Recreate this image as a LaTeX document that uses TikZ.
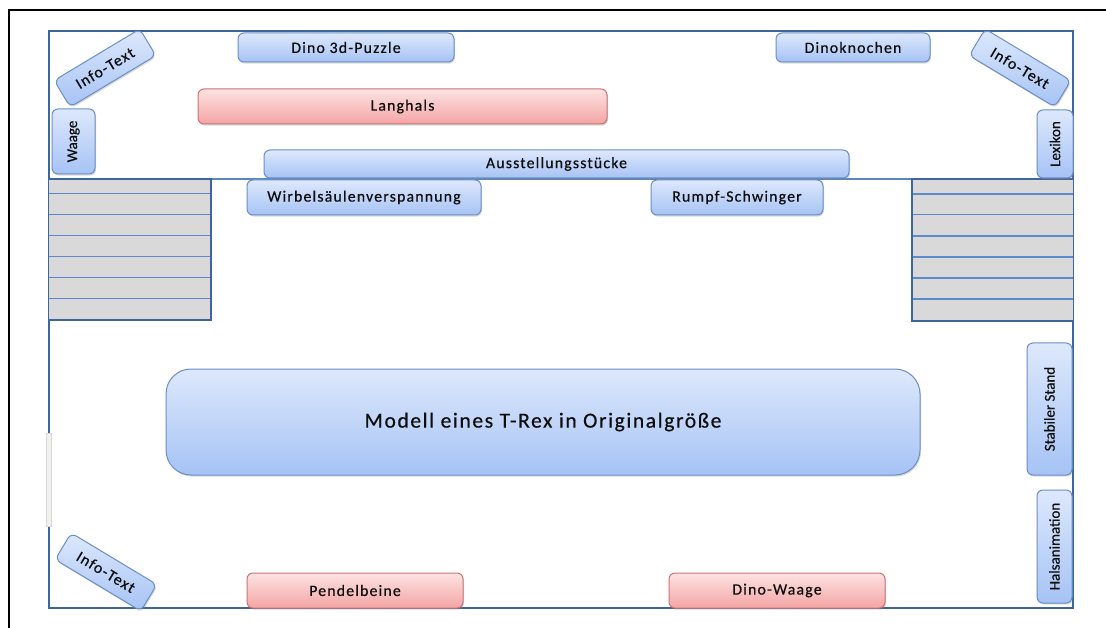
\documentclass[tikz,border=0pt]{standalone}
\usepackage{fontspec}
\setmainfont[FakeBold=0.5]{Carlito}
\newfontfamily\spaced[LetterSpace=7.5,FakeBold=0.5]{Carlito}
\usetikzlibrary{shadows}

\definecolor{wall}{HTML}{40659A}
\definecolor{divider}{HTML}{5A86C4}
\definecolor{stepline}{HTML}{5B8BCC}
\definecolor{stairfill}{HTML}{D9D9D9}
\definecolor{bluetop}{HTML}{DDE8FC}
\definecolor{bluebot}{HTML}{A6C3F5}
\definecolor{blueedge}{HTML}{6A8FC8}
\definecolor{redtop}{HTML}{FDE3E3}
\definecolor{redbot}{HTML}{F4A4A4}
\definecolor{rededge}{HTML}{CC7474}
\definecolor{ink}{HTML}{0E0E0E}
\definecolor{doorfill}{HTML}{F0F0F0}
\definecolor{dooredge}{HTML}{D8D8D8}

\tikzset{
  exhibit/.style={rounded corners=6pt, draw=blueedge, line width=1pt,
    top color=bluetop, bottom color=bluebot,
    drop shadow={opacity=0.3, shadow xshift=1pt, shadow yshift=-1.6pt},
    inner sep=0pt, text=ink, font=\spaced\fontsize{15.8}{18}\selectfont},
  redexhibit/.style={exhibit, draw=rededge, top color=redtop, bottom color=redbot},
  sidelabel/.style={exhibit, font=\fontsize{15}{18}\selectfont},
  infopanel/.style={exhibit, minimum width=100pt, minimum height=31pt},
  stairs/.style={fill=stairfill},
  stairedge/.style={draw=wall, line width=2.2pt},
  tread/.style={draw=stepline, line width=1.2pt}
}

\begin{document}
\begin{tikzpicture}[x=1pt,y=-1pt]
\useasboundingbox (0,0) rectangle (1106,628);
\fill[white] (0,0) rectangle (1106,628);

% page frame
\draw[black, line width=2.4pt] (9,628) -- (9,10) -- (1106,10);

% room outline and divider
\draw[wall, line width=2.2pt] (49,31) rectangle (1073,608);
\draw[divider, line width=1.8pt] (49,179) -- (1073,179);

% door on the left wall
\draw[dooredge, fill=doorfill, line width=0.6pt] (46.5,433) rectangle (51.5,526);

% left stairs
\fill[stairs] (49,179) rectangle (211,320);
\foreach \yy in {193.5,214.5,235.5,256.5,277.5,298.5}
  \draw[tread] (49,\yy) -- (211,\yy);
\draw[stairedge] (49,179) -- (211,179) -- (211,320) -- (49,320);

% right stairs
\fill[stairs] (912,179) rectangle (1073,321);
\foreach \yy in {194,214.5,236,257,278,299}
  \draw[tread] (912,\yy) -- (1073,\yy);
\draw[stairedge] (1073,179) -- (912,179) -- (912,321) -- (1073,321);

% exhibits along the top
\node[exhibit, minimum width=216pt, minimum height=29pt] (puzzle) at (346,47.5) {Dino 3d-Puzzle};
\node[exhibit, minimum width=154pt, minimum height=29pt] (knochen) at (853,47.5) {Dinoknochen};
\node[redexhibit, minimum width=409pt, minimum height=35pt] (langhals) at (402.5,106.5) {Langhals};
\node[exhibit, minimum width=585pt, minimum height=28pt] (stuecke) at (556.5,164) {Ausstellungsstücke};
\node[exhibit, minimum width=234pt, minimum height=35pt] (wirbel) at (364,197.5) {Wirbelsäulenverspannung};
\node[exhibit, minimum width=172pt, minimum height=35pt] (rumpf) at (737,197.5) {Rumpf-Schwinger};

% info panels in the corners
\node[infopanel, rotate=31] (infoTL) at (105,68) {Info-Text};
\node[infopanel, rotate=-31] (infoTR) at (1020,68) {Info-Text};
\node[infopanel, rotate=-31] (infoBL) at (106,572) {Info-Text};

% labels standing along the walls
\node[sidelabel, rotate=90, minimum width=65pt, minimum height=43pt] (waage) at (73.5,141.5) {Waage};
\node[sidelabel, rotate=90, minimum width=68pt, minimum height=36pt] (lexikon) at (1055,144) {Lexikon};
\node[sidelabel, rotate=90, minimum width=132pt, minimum height=45pt] (stand) at (1049.5,409) {Stabiler Stand};
\node[sidelabel, rotate=90, minimum width=113pt, minimum height=35pt] (hals) at (1054.5,546.5) {Halsanimation};

% the life-size model
\node[exhibit, rounded corners=25pt, minimum width=754pt, minimum height=106pt,
  font=\spaced\fontsize{21.5}{25}\selectfont] (trex) at (543,422) {Modell eines T-Rex in Originalgröße};

% exhibits along the bottom wall
\node[redexhibit, minimum width=216pt, minimum height=35pt] (pendel) at (355,590.5) {Pendelbeine};
\node[redexhibit, minimum width=216pt, minimum height=35pt] (dinowaage) at (777,590.5) {Dino-Waage};
\end{tikzpicture}
\end{document}
